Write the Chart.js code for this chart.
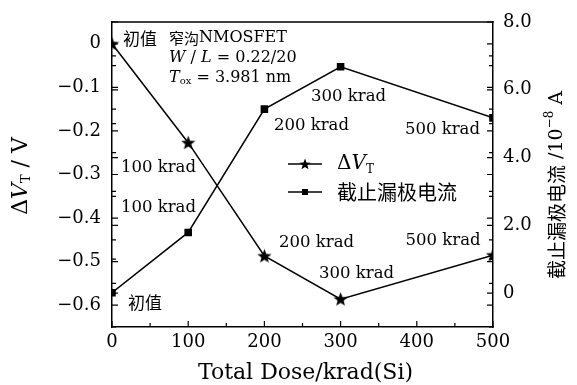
<!DOCTYPE html>
<html>
<head>
<meta charset="utf-8">
<script src="https://cdn.jsdelivr.net/npm/chart.js@4/dist/chart.umd.min.js"></script>
<style>
  html, body { margin: 0; padding: 0; background: #fff; }
</style>
</head>
<body>
<canvas id="chart" width="577" height="385"></canvas>
<script>
// data
var doseKrad = [0, 100, 200, 300, 500];
var deltaVt = [0, -0.227, -0.487, -0.586, -0.485];      // V, left axis
var leakage = [0.01, 1.79, 5.43, 6.68, 5.17];           // 10^-8 A, right axis
var doseTicks = [0, 100, 200, 300, 400, 500];
var vtTicks = [0, -0.1, -0.2, -0.3, -0.4, -0.5, -0.6];
var leakTicks = [0, 2, 4, 6, 8];

var SERIF = '"DejaVu Serif", serif';
var CJK = '"Noto Sans CJK SC", sans-serif';

Chart.defaults.font.family = 'DejaVu Serif';
Chart.defaults.font.size = 18;
Chart.defaults.color = '#000';

// point labels, placed in (dose, ΔV) units
var notes = [
  { segs: [['初值', '17px ' + CJK]], x: 36.7, y: 0.013, align: 'center' },
  { segs: [['窄沟', '15px ' + CJK], ['NMOSFET', '16px ' + SERIF]], x: 74.8, y: 0.013, align: 'left' },
  { segs: [['W', 'italic 16px ' + SERIF], [' / ', '16px ' + SERIF], ['L', 'italic 16px ' + SERIF], [' = 0.22/20', '16px ' + SERIF]], x: 74.8, y: -0.033, align: 'left' },
  { segs: [['T', 'italic 16px ' + SERIF], ['ox', '10px ' + SERIF, 4], [' = 3.981 nm', '16px ' + SERIF]], x: 74.8, y: -0.078, align: 'left' },
  { segs: [['100 krad', '16.5px ' + SERIF]], x: 61, y: -0.285, align: 'center' },
  { segs: [['100 krad', '16.5px ' + SERIF]], x: 61, y: -0.377, align: 'center' },
  { segs: [['初值', '17px ' + CJK]], x: 43.3, y: -0.593, align: 'center' },
  { segs: [['200 krad', '16.5px ' + SERIF]], x: 261.8, y: -0.189, align: 'center' },
  { segs: [['300 krad', '16.5px ' + SERIF]], x: 310.4, y: -0.122, align: 'center' },
  { segs: [['500 krad', '16.5px ' + SERIF]], x: 433.7, y: -0.198, align: 'center' },
  { segs: [['200 krad', '16.5px ' + SERIF]], x: 268.4, y: -0.457, align: 'center' },
  { segs: [['300 krad', '16.5px ' + SERIF]], x: 321, y: -0.528, align: 'center' },
  { segs: [['500 krad', '16.5px ' + SERIF]], x: 434.4, y: -0.453, align: 'center' }
];

function makeStar(size) {
  var c = document.createElement('canvas');
  c.width = size; c.height = size;
  var g = c.getContext('2d');
  var r = size / 2, ri = r * 0.42;
  g.beginPath();
  for (var i = 0; i < 10; i++) {
    var rr = i % 2 ? ri : r;
    var a = -Math.PI / 2 + i * Math.PI / 5;
    g.lineTo(r + rr * Math.cos(a), r + rr * Math.sin(a) + 0.5);
  }
  g.closePath();
  g.fillStyle = '#000';
  g.fill();
  return c;
}

// draw mixed-font text; seg = [text, font, dy]
function richText(ctx, segs, x, y, align) {
  var w = 0;
  segs.forEach(function (s) { ctx.font = s[1]; w += ctx.measureText(s[0]).width; });
  var cx = align === 'center' ? x - w / 2 : x;
  ctx.textAlign = 'left';
  ctx.textBaseline = 'middle';
  segs.forEach(function (s) {
    ctx.font = s[1];
    ctx.fillText(s[0], cx, y + (s[2] || 0));
    cx += ctx.measureText(s[0]).width;
  });
}

var decor = {
  id: 'decor',
  afterDraw: function (chart) {
    var ctx = chart.ctx, a = chart.chartArea;
    var xs = chart.scales.x, ys = chart.scales.y, ys1 = chart.scales.y1;
    ctx.save();
    ctx.strokeStyle = '#000';
    ctx.fillStyle = '#000';
    // top frame line
    ctx.fillRect(a.left - 0.75, a.top - 0.75, a.right - a.left + 1.5, 1.5);

    // inward ticks
    ctx.lineWidth = 1.2;
    ctx.beginPath();
    for (var k = -13; k <= 1; k++) {
      var py = ys.getPixelForValue(k * 0.05);
      var len = k % 2 === 0 ? 6 : 4;
      ctx.moveTo(a.left, py); ctx.lineTo(a.left + len, py);
      ctx.moveTo(a.right, py); ctx.lineTo(a.right - len, py);
    }
    for (var j = -1; j <= 8; j++) {
      var py1 = ys1.getPixelForValue(j);
      var len1 = j % 2 === 0 ? 6 : 4;
      ctx.moveTo(a.left, py1); ctx.lineTo(a.left + len1, py1);
      ctx.moveTo(a.right, py1); ctx.lineTo(a.right - len1, py1);
    }
    for (var d = 0; d <= 500; d += 50) {
      var px = xs.getPixelForValue(d);
      var lenx = d % 100 === 0 ? 6 : 4;
      ctx.moveTo(px, a.bottom); ctx.lineTo(px, a.bottom - lenx);
    }
    ctx.stroke();

    // annotations
    notes.forEach(function (n) {
      richText(ctx, n.segs, xs.getPixelForValue(n.x), ys.getPixelForValue(n.y), n.align);
    });

    // legend
    var lx = 288, lw = 34;
    [[164, 'star'], [192, 'rect']].forEach(function (row) {
      ctx.lineWidth = 1.4;
      ctx.beginPath();
      ctx.moveTo(lx, row[0]); ctx.lineTo(lx + lw, row[0]);
      ctx.stroke();
      if (row[1] === 'star') {
        ctx.drawImage(legendStar, lx + lw / 2 - 6, row[0] - 6);
      } else {
        ctx.fillRect(lx + lw / 2 - 3, row[0] - 3, 6, 6);
      }
    });
    richText(ctx, [['Δ', '20px ' + SERIF], ['V', 'italic 20px ' + SERIF], ['T', '12px ' + SERIF, 6]], 337, 164, 'left');
    richText(ctx, [['截止漏极电流', '20px ' + CJK]], 337, 192, 'left');

    // axis titles
    richText(ctx, [['Total Dose/krad(Si)', '22px ' + SERIF]], (a.left + a.right) / 2 + 3, 373, 'center');

    ctx.save();
    ctx.translate(21, 176);
    ctx.rotate(-Math.PI / 2);
    richText(ctx, [['Δ', '22px ' + SERIF], ['V', 'italic 22px ' + SERIF], ['T', '13px ' + SERIF, 6], [' / V', '22px ' + SERIF]], 0, 0, 'center');
    ctx.restore();

    ctx.save();
    ctx.translate(557, 185);
    ctx.rotate(-Math.PI / 2);
    richText(ctx, [['截止漏极电流', '19px ' + CJK], [' /10', '19px ' + SERIF], ['−8', '12px ' + SERIF, -7], [' A', '19px ' + SERIF]], 0, 0, 'center');
    ctx.restore();

    ctx.restore();
  }
};

var plotStar = makeStar(15);
var legendStar = makeStar(12);

function tickList(vals) {
  return function (scale) { scale.ticks = vals.map(function (v) { return { value: v }; }); };
}

var tickFont = { size: 18, family: 'DejaVu Serif' };

new Chart(document.getElementById('chart').getContext('2d'), {
  type: 'line',
  data: {
    datasets: [{
      label: 'ΔV_T',
      data: doseKrad.map(function (d, i) { return { x: d, y: deltaVt[i] }; }),
      yAxisID: 'y',
      borderColor: '#000',
      backgroundColor: '#000',
      borderWidth: 1.5,
      pointStyle: plotStar,
      pointRadius: 7,
      tension: 0
    }, {
      label: '截止漏极电流',
      data: doseKrad.map(function (d, i) { return { x: d, y: leakage[i] }; }),
      yAxisID: 'y1',
      borderColor: '#000',
      backgroundColor: '#000',
      borderWidth: 1.5,
      pointStyle: 'rect',
      pointRadius: 4.3,
      tension: 0
    }]
  },
  options: {
    responsive: false,
    animation: false,
    devicePixelRatio: 1,
    layout: { padding: { top: 22, left: 0, right: 0, bottom: 0 } },
    plugins: { legend: { display: false }, tooltip: { enabled: false } },
    scales: {
      x: {
        type: 'linear', min: 0, max: 500,
        afterBuildTicks: tickList(doseTicks),
        afterFit: function (s) { s.height = 58; },
        grid: { display: false, drawTicks: false },
        border: { display: true, color: '#000', width: 1.5 },
        ticks: { font: tickFont, color: '#000', padding: 5, maxRotation: 0, autoSkip: false }
      },
      y: {
        position: 'left', min: -0.65, max: 0.05,
        afterBuildTicks: tickList(vtTicks),
        afterFit: function (s) { s.width = 112; },
        grid: { display: false, drawTicks: false },
        border: { display: true, color: '#000', width: 1.5 },
        ticks: {
          font: tickFont, color: '#000', padding: 11, autoSkip: false,
          callback: function (v) { return v === 0 ? '0' : '\u2212' + Math.abs(v).toFixed(1); }
        }
      },
      y1: {
        position: 'right', min: -1, max: 8,
        afterBuildTicks: tickList(leakTicks),
        afterFit: function (s) { s.width = 84; },
        grid: { display: false, drawTicks: false },
        border: { display: true, color: '#000', width: 1.5 },
        ticks: {
          font: tickFont, color: '#000', padding: 10, autoSkip: false,
          callback: function (v) { return v === 0 ? '0' : v.toFixed(1); }
        }
      }
    }
  },
  plugins: [decor]
});
</script>
</body>
</html>
